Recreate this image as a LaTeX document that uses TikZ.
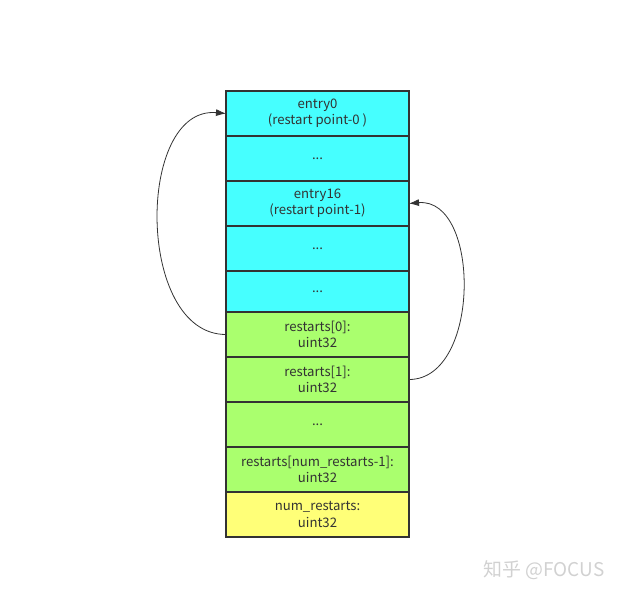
\documentclass[tikz,border=0pt]{standalone}
\usepackage{fontspec}
\setmainfont{Noto Sans CJK SC}
\usepackage{tikz}
\usetikzlibrary{arrows.meta,positioning}
\definecolor{entrycyan}{RGB}{70,255,255}
\definecolor{restartgreen}{RGB}{170,255,110}
\definecolor{countyellow}{RGB}{255,255,120}
\definecolor{framegray}{RGB}{51,51,51}
\tikzset{
  blockrow/.style={draw=framegray,line width=1.3bp,outer sep=0pt,inner sep=0pt,
    minimum width=183bp,minimum height=45bp,align=center,text=framegray,
    font=\fontsize{13.2}{16.5}\selectfont},
  entryrow/.style={blockrow,fill=entrycyan},
  restartrow/.style={blockrow,fill=restartgreen},
  countrow/.style={blockrow,fill=countyellow},
  jumparrow/.style={-{Latex[length=10bp,width=7bp]},draw=framegray,line width=0.8bp}
}
\begin{document}
\begin{tikzpicture}[x=1bp,y=-1bp]
  \useasboundingbox (0,0) rectangle (620,596);
  \node[entryrow] (e0) at (317.5,113.5) {entry0\\(restart point-0 )};
  \node[entryrow,below=0pt of e0] (e1) {...};
  \node[entryrow,below=0pt of e1] (e16) {entry16\\(restart point-1)};
  \node[entryrow,below=0pt of e16] (e2) {...};
  \node[entryrow,below=0pt of e2,minimum height=41bp] (e3) {...};
  \node[restartrow,below=0pt of e3] (r0) {restarts[0]:\\uint32};
  \node[restartrow,below=0pt of r0] (r1) {restarts[1]:\\uint32};
  \node[restartrow,below=0pt of r1] (r2) {...};
  \node[restartrow,below=0pt of r2] (rn) {restarts[num\_restarts-1]:\\uint32};
  \node[countrow,below=0pt of rn] (nr) {num\_restarts:\\uint32};
  % restart pointers
  \draw[jumparrow] (r0.west) to[out=180,in=175,looseness=1.05] (e0.west);
  \draw[jumparrow] (r1.east) to[out=0,in=5,looseness=1.05] (e16.east);
  \node[text=black!18,font=\fontsize{19}{21}\selectfont] (mark) at (544,570) {知乎 @FOCUS};
\end{tikzpicture}
\end{document}
